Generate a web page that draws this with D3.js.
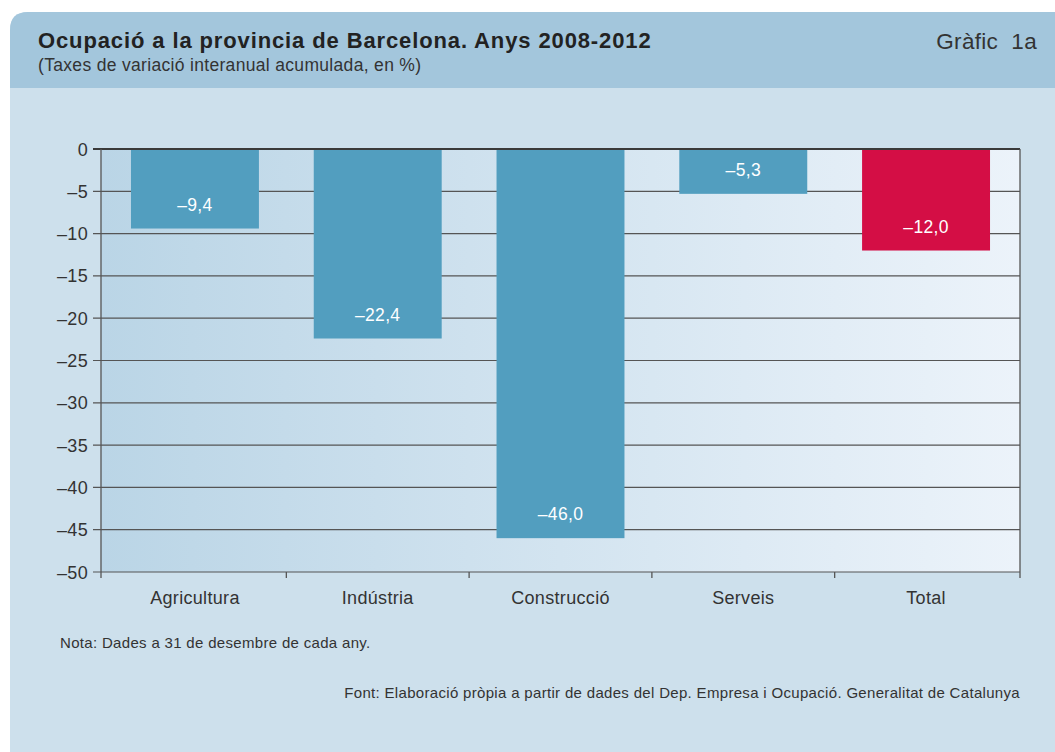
<!DOCTYPE html>
<html><head><meta charset="utf-8">
<script src="https://cdn.jsdelivr.net/npm/d3@7"></script>
<style>body{margin:0;background:#fff;}svg{display:block;font-family:"Liberation Sans",Arial,sans-serif;letter-spacing:0.02em;}</style>
</head><body><svg id="c" width="1055" height="752"></svg>
<script>
const categories = ["Agricultura","Indústria","Construcció","Serveis","Total"];
const values = [-9.4, -22.4, -46.0, -5.3, -12.0];
const yTicks = [0,-5,-10,-15,-20,-25,-30,-35,-40,-45,-50];
const title = "Ocupació a la provincia de Barcelona. Anys 2008-2012";
const subtitle = "(Taxes de variació interanual acumulada, en %)";
const tag = "Gràfic  1a";
const note = "Nota: Dades a 31 de desembre de cada any.";
const source = "Font: Elaboració pròpia a partir de dades del Dep. Empresa i Ocupació. Generalitat de Catalunya";

const svg = d3.select("#c");
const defs = svg.append("defs");
const g = defs.append("linearGradient").attr("id","pg").attr("x1","0").attr("x2","1").attr("y1","0").attr("y2","0");
g.append("stop").attr("offset","0").attr("stop-color","#bad5e6");
g.append("stop").attr("offset","1").attr("stop-color","#ecf3fa");

// card
svg.append("path").attr("fill","#cde0ec")
  .attr("d","M10,800 L10,30 Q10,12 28,12 L1070,12 L1070,800 Z");
svg.append("path").attr("fill","#a3c6dc")
  .attr("d","M10,88 L10,30 Q10,12 28,12 L1070,12 L1070,88 Z");

svg.append("text").attr("x",38).attr("y",48).attr("font-size",22).attr("font-weight","bold").attr("fill","#222").style("letter-spacing","0.04em").text(title);
svg.append("text").attr("x",38).attr("y",71).attr("font-size",17.5).attr("fill","#333").text(subtitle);
svg.append("text").attr("x",1037).attr("y",49).attr("text-anchor","end").attr("font-size",22.5).attr("fill","#333").style("white-space","pre").text(tag);

const L=101,R=1020,T=149,B=572;
const x = d3.scaleBand().domain(categories).range([L,R]).paddingInner(0.3).paddingOuter(0.164);
const y = d3.scaleLinear().domain([0,-50]).range([T,B]);

svg.append("rect").attr("x",L).attr("y",T).attr("width",R-L).attr("height",B-T).attr("fill","url(#pg)");

// gridlines
svg.append("g").selectAll("line").data(yTicks).join("line")
  .attr("x1",L-8).attr("x2",R).attr("y1",d=>y(d)).attr("y2",d=>y(d))
  .attr("stroke",d=>d===0?"#3a3a3a":"#555").attr("stroke-width",d=>d===0?2:1.2);

// bars
svg.append("g").selectAll("rect").data(values).join("rect")
  .attr("x",(d,i)=>x(categories[i])).attr("width",x.bandwidth())
  .attr("y",y(0)+1).attr("height",d=>y(d)-y(0)-1)
  .attr("fill",(d,i)=>categories[i]==="Total"?"#d40e45":"#529ebf");

svg.append("g").selectAll("text").data(values).join("text")
  .attr("x",(d,i)=>x(categories[i])+x.bandwidth()/2)
  .attr("y",d=>y(d)-18).attr("text-anchor","middle").attr("font-size",17.5).attr("fill","#fff")
  .text(d=>"–"+d3.format(".1f")(Math.abs(d)).replace(".",","));

// axes lines
svg.append("line").attr("x1",L).attr("x2",L).attr("y1",T).attr("y2",B+6).attr("stroke","#555").attr("stroke-width",1.3);
svg.append("line").attr("x1",R).attr("x2",R).attr("y1",T).attr("y2",B+6).attr("stroke","#555").attr("stroke-width",1.3);

// y labels
svg.append("g").selectAll("text").data(yTicks).join("text")
  .attr("x",L-13).attr("y",d=>y(d)+6.5).attr("text-anchor","end").attr("font-size",18).attr("fill","#333")
  .text(d=>d===0?"0":"–"+Math.abs(d));

// x ticks at boundaries
const bounds = categories.map(c=>x(c)-x.step()*x.paddingInner()/2).slice(1);
svg.append("g").selectAll("line").data(bounds).join("line")
  .attr("x1",d=>d).attr("x2",d=>d).attr("y1",B).attr("y2",B+6).attr("stroke","#555").attr("stroke-width",1.3);

svg.append("g").selectAll("text").data(categories).join("text")
  .attr("x",d=>x(d)+x.bandwidth()/2).attr("y",B+32).attr("text-anchor","middle").attr("font-size",18).attr("fill","#333").text(d=>d);

svg.append("text").attr("x",60).attr("y",648).attr("font-size",15).attr("fill","#333").text(note);
svg.append("text").attr("x",1020).attr("y",698).attr("text-anchor","end").attr("font-size",15).attr("fill","#333").text(source);
</script></body></html>
